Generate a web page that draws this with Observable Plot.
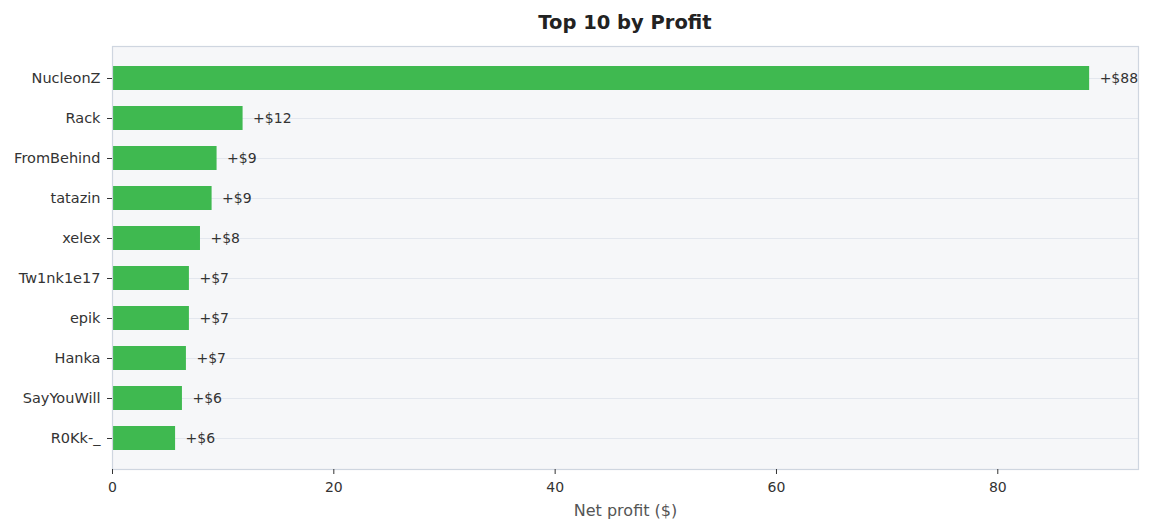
<!DOCTYPE html>
<html>
<head>
<meta charset="utf-8">
<script src="https://cdn.jsdelivr.net/npm/d3@7"></script>
<script src="https://cdn.jsdelivr.net/npm/@observablehq/plot@0.6"></script>
<style>
  html, body { margin: 0; padding: 0; background: #ffffff; }
  body { width: 1152px; height: 531px; overflow: hidden; font-family: "DejaVu Sans", sans-serif; }
  #title { height: 36px; box-sizing: border-box; padding-top: 9px; margin-left: 112px; width: 1026px; text-align: center; font-weight: bold; font-size: 19.5px; line-height: 28px; color: #222; }
  #chart svg { display: block; }
</style>
</head>
<body>
<div id="title">Top 10 by Profit</div>
<div id="chart"></div>
<script>
const names = ["NucleonZ", "Rack", "FromBehind", "tatazin", "xelex", "Tw1nk1e17", "epik", "Hanka", "SayYouWill", "R0Kk-_"];
const profits = [88.3, 11.8, 9.45, 9.0, 7.95, 6.95, 6.95, 6.68, 6.32, 5.7];
const xTicks = [0, 20, 40, 60, 80];

const data = names.map((name, i) => ({name, profit: profits[i]}));
const fmt = v => "+$" + Math.round(v);

const chart = Plot.plot({
  width: 1152,
  height: 495,
  marginTop: 10,
  marginBottom: 62,
  marginLeft: 112,
  marginRight: 14,
  style: {fontFamily: "DejaVu Sans, sans-serif", fontSize: "14.5px", color: "#333", background: "transparent"},
  x: {domain: [0, d3.max(profits) * 1.05]},
  y: {domain: names, paddingInner: 0.4, paddingOuter: 0.48},
  marks: [
    Plot.frame({fill: "#f6f7f9", stroke: null}),
    Plot.gridY({stroke: "#e3e7ee", strokeOpacity: 1, strokeWidth: 1}),
    Plot.barX(data, {y: "name", x: "profit", fill: "#3fb950"}),
    Plot.text(data, {y: "name", x: "profit", text: d => fmt(d.profit), dx: 10, textAnchor: "start", fill: "#333", fontSize: 14}),
    Plot.frame({stroke: "#cfd6e0", strokeWidth: 1.2}),
    Plot.axisY({tickSize: 5, tickPadding: 7, label: null, fontSize: 14.5, color: "#333"}),
    Plot.axisX({ticks: xTicks, tickSize: 5, tickPadding: 8, fontSize: 14, label: null, color: "#333"}),
    Plot.axisX({ticks: [], label: "Net profit ($)", labelAnchor: "center", labelArrow: "none", labelOffset: 46, fontSize: 16, color: "#555"})
  ]
});
document.getElementById("chart").append(chart);
</script>
</body>
</html>
